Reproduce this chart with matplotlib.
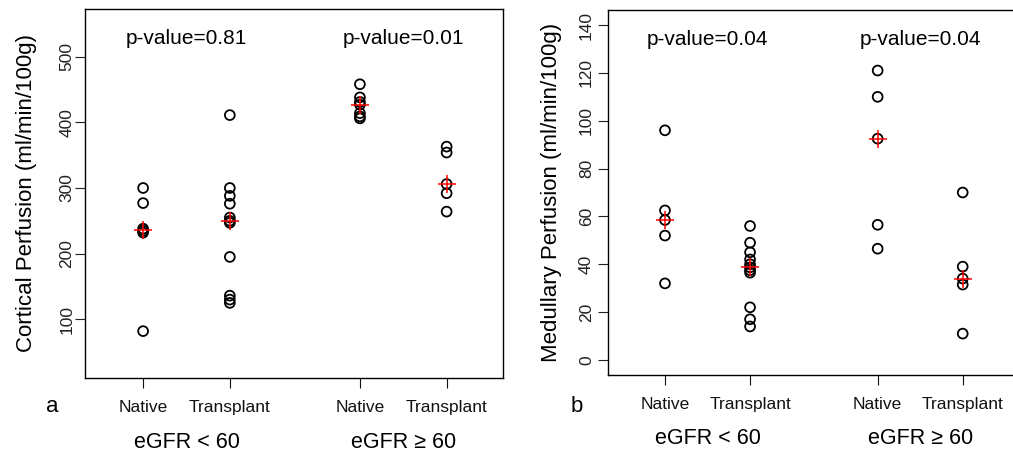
import matplotlib
matplotlib.use("Agg")
import matplotlib.pyplot as plt
from matplotlib.transforms import blended_transform_factory

plt.rcParams['font.family'] = ['Liberation Sans', 'DejaVu Sans']

# ---- data ----
groups = ["Native", "Transplant", "Native", "Transplant"]
group_pos = [1, 2, 3.5, 4.5]
egfr_labels = ["eGFR < 60", "eGFR \u2265 60"]

cortical_native_lt60 = [300, 277, 238, 235, 232, 82]
cortical_transp_lt60 = [411, 300, 288, 276, 255, 250, 247, 195, 136, 130, 125]
cortical_native_ge60 = [458, 438, 431, 427, 414, 409, 406]
cortical_transp_ge60 = [363, 354, 306, 292, 264]
cortical_medians = [236, 250, 427, 306]
cortical_pvalues = ["p-value=0.81", "p-value=0.01"]

medullary_native_lt60 = [96, 62.5, 58.5, 52, 32]
medullary_transp_lt60 = [56, 49, 45, 42, 40, 38.7, 37.5, 36.5, 22, 17, 14]
medullary_native_ge60 = [121, 110, 92.5, 56.5, 46.5]
medullary_transp_ge60 = [70, 39, 34, 31.5, 11]
medullary_medians = [58.5, 38.7, 92.5, 34]
medullary_pvalues = ["p-value=0.04", "p-value=0.04"]

W, H = 1013, 454
fig = plt.figure(figsize=(W / 100, H / 100), dpi=100)


def px_axes(l, t, r, b):
    return fig.add_axes([l / W, 1 - b / H, (r - l) / W, (b - t) / H])


def panel(ax, series, medians, pvals, ylabel, yticks, ylim, letter, letter_x,
          ylab_x, ypad):
    for x, vals in zip(group_pos, series):
        ax.scatter([x] * len(vals), vals, s=50, facecolors='none',
                   edgecolors='black', linewidths=1.3, zorder=2)
    ax.scatter(group_pos, medians, marker='+', s=170, color='red',
               linewidths=1.1, zorder=3)
    ax.set_xlim(0.33, 5.15)
    ax.set_ylim(*ylim)
    ax.set_yticks(yticks)
    ax.set_yticklabels([str(v) for v in yticks], rotation=90, va='center')
    ax.set_xticks(group_pos)
    ax.set_xticklabels(groups)
    ax.tick_params(axis='y', length=7, width=0.8, labelsize=12.5, pad=ypad,
                   colors='#222222')
    ax.tick_params(axis='x', length=7, width=0.8, labelsize=12.5, pad=9,
                   colors='#111111')
    for sp in ax.spines.values():
        sp.set_linewidth(1.0)
    ax.set_ylabel(ylabel, fontsize=16)
    ax.yaxis.set_label_coords(ylab_x, 0.5)
    tr = blended_transform_factory(ax.transData, ax.transAxes)
    ax.text(1.5, 0.92, pvals[0], transform=tr, ha='center', va='center',
            fontsize=15)
    ax.text(4.0, 0.92, pvals[1], transform=tr, ha='center', va='center',
            fontsize=15)
    ax.text(1.5, -0.175, egfr_labels[0], transform=tr, ha='center',
            va='center', fontsize=15.5)
    ax.text(4.0, -0.175, egfr_labels[1], transform=tr, ha='center',
            va='center', fontsize=15.5)
    fig.text(letter_x / W, 1 - 406 / H, letter, ha='center', va='center',
             fontsize=16)


ax1 = px_axes(85, 9, 503, 378)
panel(ax1,
      [cortical_native_lt60, cortical_transp_lt60,
       cortical_native_ge60, cortical_transp_ge60],
      cortical_medians, cortical_pvalues,
      "Cortical Perfusion (ml/min/100g)", [100, 200, 300, 400, 500],
      (10.6, 572.6), "a", 52, -0.115, 0.5)

ax2 = px_axes(608, 10, 1018, 375)
panel(ax2,
      [medullary_native_lt60, medullary_transp_lt60,
       medullary_native_ge60, medullary_transp_ge60],
      medullary_medians, medullary_pvalues,
      "Medullary Perfusion (ml/min/100g)", [0, 20, 40, 60, 80, 100, 120, 140],
      (-6.3, 146.3), "b", 577, -0.112, 3)

fig.savefig("out.png", dpi=100)
